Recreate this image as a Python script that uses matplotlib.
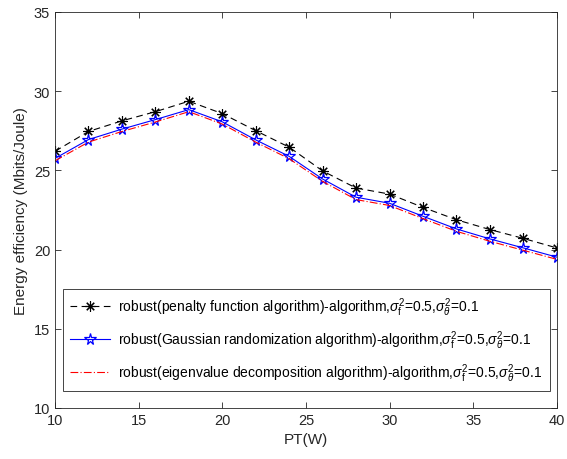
import numpy as np
import matplotlib.pyplot as plt

plt.rcParams['font.family'] = ['Liberation Sans', 'DejaVu Sans']
plt.rcParams['mathtext.fontset'] = 'custom'
plt.rcParams['mathtext.rm'] = 'Liberation Sans'
plt.rcParams['mathtext.it'] = 'Liberation Sans:italic'

pt = [10, 12, 14, 16, 18, 20, 22, 24, 26, 28, 30, 32, 34, 36, 38, 40]
penalty = [26.2, 27.45, 28.12, 28.7, 29.36, 28.58, 27.5, 26.46, 24.96, 23.88,
           23.5, 22.66, 21.88, 21.26, 20.7, 20.1]
gaussian = [25.75, 26.94, 27.6, 28.2, 28.83, 28.06, 26.92, 25.88, 24.45, 23.3,
            22.92, 22.1, 21.3, 20.67, 20.1, 19.52]
eigen = [25.6, 26.78, 27.45, 28.05, 28.7, 27.92, 26.78, 25.73, 24.3, 23.15,
         22.78, 21.95, 21.15, 20.52, 19.95, 19.38]

labels = [
    r'robust(penalty function algorithm)-algorithm,$\sigma_{\rm f}^2$=0.5,$\sigma_\theta^2$=0.1',
    r'robust(Gaussian randomization algorithm)-algorithm,$\sigma_{\rm f}^2$=0.5,$\sigma_\theta^2$=0.1',
    r'robust(eigenvalue decomposition algorithm)-algorithm,$\sigma_{\rm f}^2$=0.5,$\sigma_\theta^2$=0.1',
]

fig = plt.figure(figsize=(5.67, 4.6), dpi=100)
ax = fig.add_axes([0.097, 0.111, 0.885, 0.861])

ax.plot(pt, penalty, color='black', linestyle=(0, (6, 4)), linewidth=0.8,
        marker=(8, 2, 0), markersize=7.5, markeredgewidth=0.8, label=labels[0])
ax.plot(pt, gaussian, color='blue', linestyle='-', linewidth=0.8,
        marker='*', markersize=8.5, markerfacecolor='none', markeredgewidth=0.9,
        label=labels[1])
ax.plot(pt, eigen, color='red', linestyle=(0, (7, 2, 1, 2)), linewidth=0.8,
        label=labels[2])

ax.set_xlim(10, 40)
ax.set_ylim(10, 35)
ax.set_xticks(np.arange(10, 41, 5))
ax.set_yticks(np.arange(10, 36, 5))
ax.tick_params(direction='in', top=True, right=True, labelsize=10.5,
               colors='#262626', length=4, width=0.6)
for s in ax.spines.values():
    s.set_color('#262626')
    s.set_linewidth(0.6)

ax.set_xlabel('PT(W)', fontsize=11, color='#262626')
ax.set_ylabel('Energy efficiency (Mbits/Joule)', fontsize=11, color='#262626')

leg = ax.legend(loc='lower left', bbox_to_anchor=(0.01, 0.035), fontsize=10,
                handlelength=2.9, handletextpad=0.6, fancybox=False,
                edgecolor='#262626', framealpha=1, borderpad=0.5,
                labelspacing=0.75, borderaxespad=0.2)
leg.get_frame().set_linewidth(0.6)

fig.savefig('out.png', dpi=100)
